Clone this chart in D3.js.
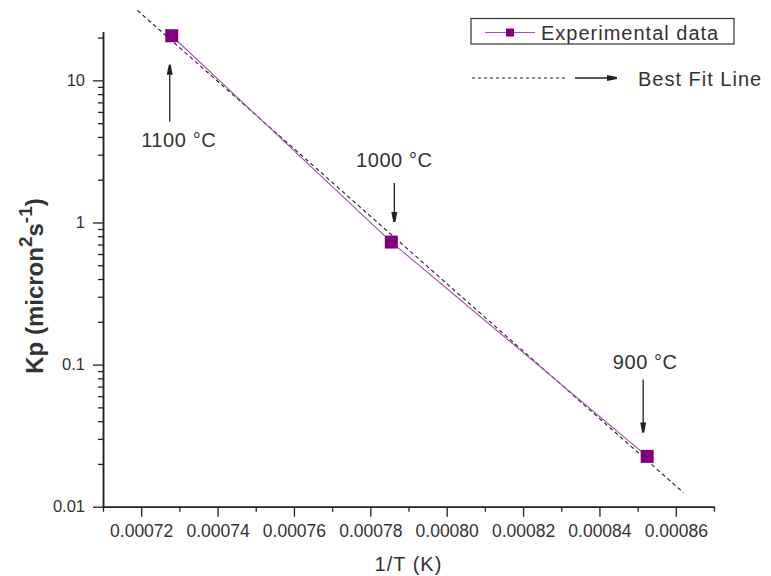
<!DOCTYPE html>
<html>
<head>
<meta charset="utf-8">
<script src="https://cdn.jsdelivr.net/npm/d3@7/dist/d3.min.js"></script>
<style>
  html, body { margin: 0; padding: 0; background: #fff; }
  svg { display: block; }
  text { font-family: "Liberation Sans", Arial, sans-serif; fill: #333; }
</style>
</head>
<body>
<svg id="chart" width="771" height="576"></svg>
<script>
// Parabolic rate constant vs reciprocal temperature
const temperatures = ["1100 °C", "1000 °C", "900 °C"];
const invT = [0.000728, 0.0007855, 0.0008525];
const kp = [20.6, 0.728, 0.0226];

// Best fit line end points (1/T, Kp)
const fitInvT = [0.000719, 0.000862];
const fitKp = [31.1, 0.01256];

const xMajorTicks = [0.00072, 0.00074, 0.00076, 0.00078, 0.00080, 0.00082, 0.00084, 0.00086];
const xMinorTicks = [0.00071, 0.00073, 0.00075, 0.00077, 0.00079, 0.00081, 0.00083, 0.00085, 0.00087];
const yMajorTicks = [0.01, 0.1, 1, 10];
const yTickLabels = ["0.01", "0.1", "1", "10"];
const yMinorTicks = [0.02, 0.03, 0.04, 0.05, 0.06, 0.07, 0.08, 0.09,
                     0.2, 0.3, 0.4, 0.5, 0.6, 0.7, 0.8, 0.9,
                     2, 3, 4, 5, 6, 7, 8, 9, 20];

const svg = d3.select("#chart");
const ink = "#222";
const purple = "#800080";
const purpleLine = "#a64fb0";

const x = d3.scaleLinear().domain([0.00071, 0.00087]).range([103, 714]);
const y = d3.scaleLog().domain([0.01, 22]).range([506.7, 31.7]);

// Arrowhead markers
const defs = svg.append("defs");
defs.append("marker")
  .attr("id", "head")
  .attr("markerUnits", "userSpaceOnUse")
  .attr("markerWidth", 12).attr("markerHeight", 8)
  .attr("refX", 10).attr("refY", 4)
  .attr("orient", "auto")
  .append("path")
  .attr("d", "M0,1 L10,3 L10,5 L0,7 Z")
  .attr("fill", ink);

// Axes
const xAxis = d3.axisBottom(x).tickValues(xMajorTicks).tickSize(10).tickSizeOuter(0)
  .tickFormat(d3.format(".5f"));
const xMinor = d3.axisBottom(x).tickValues(xMinorTicks).tickSize(5).tickSizeOuter(0).tickFormat("");
const yAxis = d3.axisLeft(y).tickValues(yMajorTicks).tickSize(10).tickSizeOuter(0)
  .tickFormat((d, i) => yTickLabels[i]);
const yMinor = d3.axisLeft(y).tickValues(yMinorTicks).tickSize(5).tickSizeOuter(0).tickFormat("");

function styleAxis(g) {
  g.select(".domain").attr("stroke", ink).attr("stroke-width", 1.5);
  g.selectAll(".tick line").attr("stroke", ink).attr("stroke-width", 1.3);
  g.selectAll(".tick text").attr("fill", "#333")
    .style("font-family", "'Liberation Sans', Arial, sans-serif");
}

const gx = svg.append("g").attr("transform", `translate(0,${y.range()[0]})`).call(xAxis).call(styleAxis);
gx.selectAll(".tick text").style("font-size", "17.5px").attr("y", 14).attr("dy", "0.95em");
svg.append("g").attr("transform", `translate(0,${y.range()[0]})`).call(xMinor).call(styleAxis);

const gy = svg.append("g").attr("transform", `translate(${x.range()[0]},0)`).call(yAxis).call(styleAxis);
gy.selectAll(".tick text").style("font-size", "16.5px").attr("x", -18).attr("dy", "0.3em");
svg.append("g").attr("transform", `translate(${x.range()[0]},0)`).call(yMinor).call(styleAxis);

// Axis titles
svg.append("text")
  .attr("x", (x.range()[0] + x.range()[1]) / 2).attr("y", 571)
  .attr("text-anchor", "middle")
  .style("font-size", "20px").style("letter-spacing", "1px")
  .text("1/T (K)");

const yTitle = svg.append("text")
  .attr("transform", "translate(43,286) rotate(-90)")
  .attr("text-anchor", "middle")
  .style("font-size", "24px").style("font-weight", "bold");
yTitle.append("tspan").text("Kp (micron");
yTitle.append("tspan").attr("dy", -11).style("font-size", "19px").text("2");
yTitle.append("tspan").attr("dy", 11).text("s");
yTitle.append("tspan").attr("dy", -11).style("font-size", "19px").text("-1");
yTitle.append("tspan").attr("dy", 11).text(")");

// Best fit line (dashed)
const fitData = fitInvT.map((v, i) => [v, fitKp[i]]);
svg.append("path")
  .datum(fitData)
  .attr("d", d3.line().x(d => x(d[0])).y(d => y(d[1])))
  .attr("fill", "none")
  .attr("stroke", ink)
  .attr("stroke-width", 1.1)
  .attr("stroke-dasharray", "4,3");

// Experimental series
const expData = invT.map((v, i) => [v, kp[i]]);
svg.append("path")
  .datum(expData)
  .attr("d", d3.line().x(d => x(d[0])).y(d => y(d[1])))
  .attr("fill", "none")
  .attr("stroke", purpleLine)
  .attr("stroke-width", 1.1);

const sq = 13;
svg.selectAll("rect.pt")
  .data(expData)
  .join("rect")
  .attr("class", "pt")
  .attr("x", d => x(d[0]) - sq / 2)
  .attr("y", d => y(d[1]) - sq / 2)
  .attr("width", sq).attr("height", sq)
  .attr("fill", purple);

// Temperature annotations: label and arrow pointing at each point
const notes = [
  { dx: -2, tail: 86, tip: 29, textDx: 7, textDy: 111 },
  { dx: 3, tail: -59, tip: -20, textDx: 3, textDy: -75 },
  { dx: -4, tail: -77, tip: -24, textDx: -2, textDy: -87 }
];
notes.forEach((n, i) => {
  const px = x(invT[i]), py = y(kp[i]);
  svg.append("line")
    .attr("x1", px + n.dx).attr("y1", py + n.tail)
    .attr("x2", px + n.dx).attr("y2", py + n.tip)
    .attr("stroke", ink).attr("stroke-width", 1.3)
    .attr("marker-end", "url(#head)");
  svg.append("text")
    .attr("x", px + n.textDx).attr("y", py + n.textDy)
    .attr("text-anchor", "middle")
    .style("font-size", "20px").style("letter-spacing", "0.6px")
    .text(temperatures[i]);
});

// Legend
const lg = svg.append("g");
lg.append("rect")
  .attr("x", 471).attr("y", 18.5).attr("width", 263).attr("height", 25.5)
  .attr("fill", "#fff").attr("stroke", "#333").attr("stroke-width", 1.2);
lg.append("line").attr("x1", 485).attr("x2", 535).attr("y1", 32.5).attr("y2", 32.5)
  .attr("stroke", purpleLine).attr("stroke-width", 1.2);
lg.append("rect").attr("x", 506).attr("y", 28.5).attr("width", 8).attr("height", 8).attr("fill", purple);
lg.append("text").attr("x", 541).attr("y", 39.5)
  .style("font-size", "20px").style("letter-spacing", "1px")
  .text("Experimental data");

lg.append("line").attr("x1", 472).attr("x2", 568).attr("y1", 78).attr("y2", 78)
  .attr("stroke", ink).attr("stroke-width", 1.1).attr("stroke-dasharray", "3,3");
lg.append("line").attr("x1", 575).attr("x2", 617).attr("y1", 78).attr("y2", 78)
  .attr("stroke", ink).attr("stroke-width", 1.3).attr("marker-end", "url(#head)");
lg.append("text").attr("x", 638).attr("y", 86)
  .style("font-size", "20px").style("letter-spacing", "1px")
  .text("Best Fit Line");
</script>
</body>
</html>
